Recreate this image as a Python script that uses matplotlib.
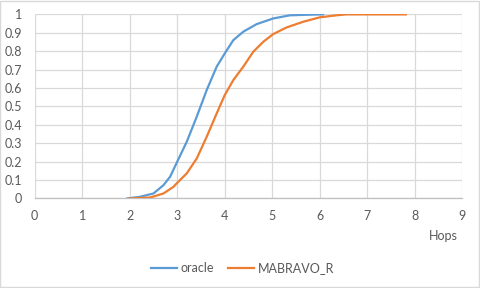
import matplotlib
matplotlib.use("Agg")
import matplotlib.pyplot as plt
from matplotlib.patches import Rectangle

plt.rcParams['font.family'] = ['Lato', 'DejaVu Sans']

# CDF
oracle_x = [1.95, 2.22, 2.5, 2.71, 2.85, 3.0, 3.2, 3.41, 3.62, 3.83, 4.0,
            4.18, 4.39, 4.67, 5.02, 5.37, 5.72, 6.07]
oracle_y = [0.0, 0.009, 0.027, 0.072, 0.118, 0.2, 0.308, 0.444, 0.589, 0.716, 0.788,
            0.86, 0.906, 0.947, 0.978, 0.995, 0.998, 1.0]

mab_x = [2.0, 2.43, 2.71, 2.92, 3.0, 3.2, 3.41, 3.62, 3.83, 4.0, 4.18,
         4.39, 4.6, 4.81, 5.02, 5.3, 5.65, 6.0, 6.35, 6.55, 7.81]
mab_y = [0.0, 0.005, 0.027, 0.063, 0.085, 0.136, 0.217, 0.335, 0.462, 0.562, 0.643,
         0.716, 0.797, 0.851, 0.893, 0.929, 0.96, 0.984, 0.995, 1.0, 1.0]

x_ticks = list(range(0, 10))
y_ticks = [i / 10 for i in range(0, 11)]
y_labels = ['0', '0.1', '0.2', '0.3', '0.4', '0.5', '0.6', '0.7', '0.8', '0.9', '1']

blue = '#5B9BD5'
orange = '#ED7D31'
grid = '#D9D9D9'
text = '#595959'

fig = plt.figure(figsize=(4.8, 2.88), dpi=100)
ax = fig.add_axes([0.0723, 0.311, 0.8909, 0.639])

ax.plot(oracle_x, oracle_y, color=blue, lw=1.6, label='oracle', zorder=3)
ax.plot(mab_x, mab_y, color=orange, lw=1.6, label='MABRAVO_R', zorder=3)

ax.set_xlim(0, 9)
ax.set_ylim(0, 1)
ax.set_xticks(x_ticks)
ax.set_yticks(y_ticks)
ax.set_yticklabels(y_labels)
ax.grid(True, color=grid, lw=0.9)
ax.set_axisbelow(True)
for s in ['top', 'right', 'left']:
    ax.spines[s].set_visible(False)
ax.spines['bottom'].set_color('#BFBFBF')
ax.spines['bottom'].set_linewidth(0.9)
ax.tick_params(length=0, colors=text, labelsize=9)
ax.tick_params(axis='x', pad=8)
ax.tick_params(axis='y', pad=9)

fig.text(443 / 480, 1 - 236 / 288, 'Hops', ha='center', va='center',
         color=text, fontsize=9)

leg = fig.legend(loc='center', bbox_to_anchor=(0.505, 1 - 268 / 288), ncol=2,
                 frameon=False, fontsize=9, handlelength=2.1,
                 columnspacing=1.1, handletextpad=0.3)
for t in leg.get_texts():
    t.set_color(text)

fig.patches.append(Rectangle((0.001, 0.002), 0.997, 0.995, transform=fig.transFigure,
                             fill=False, edgecolor=grid, lw=1.0))

fig.savefig('out.png', dpi=100)
